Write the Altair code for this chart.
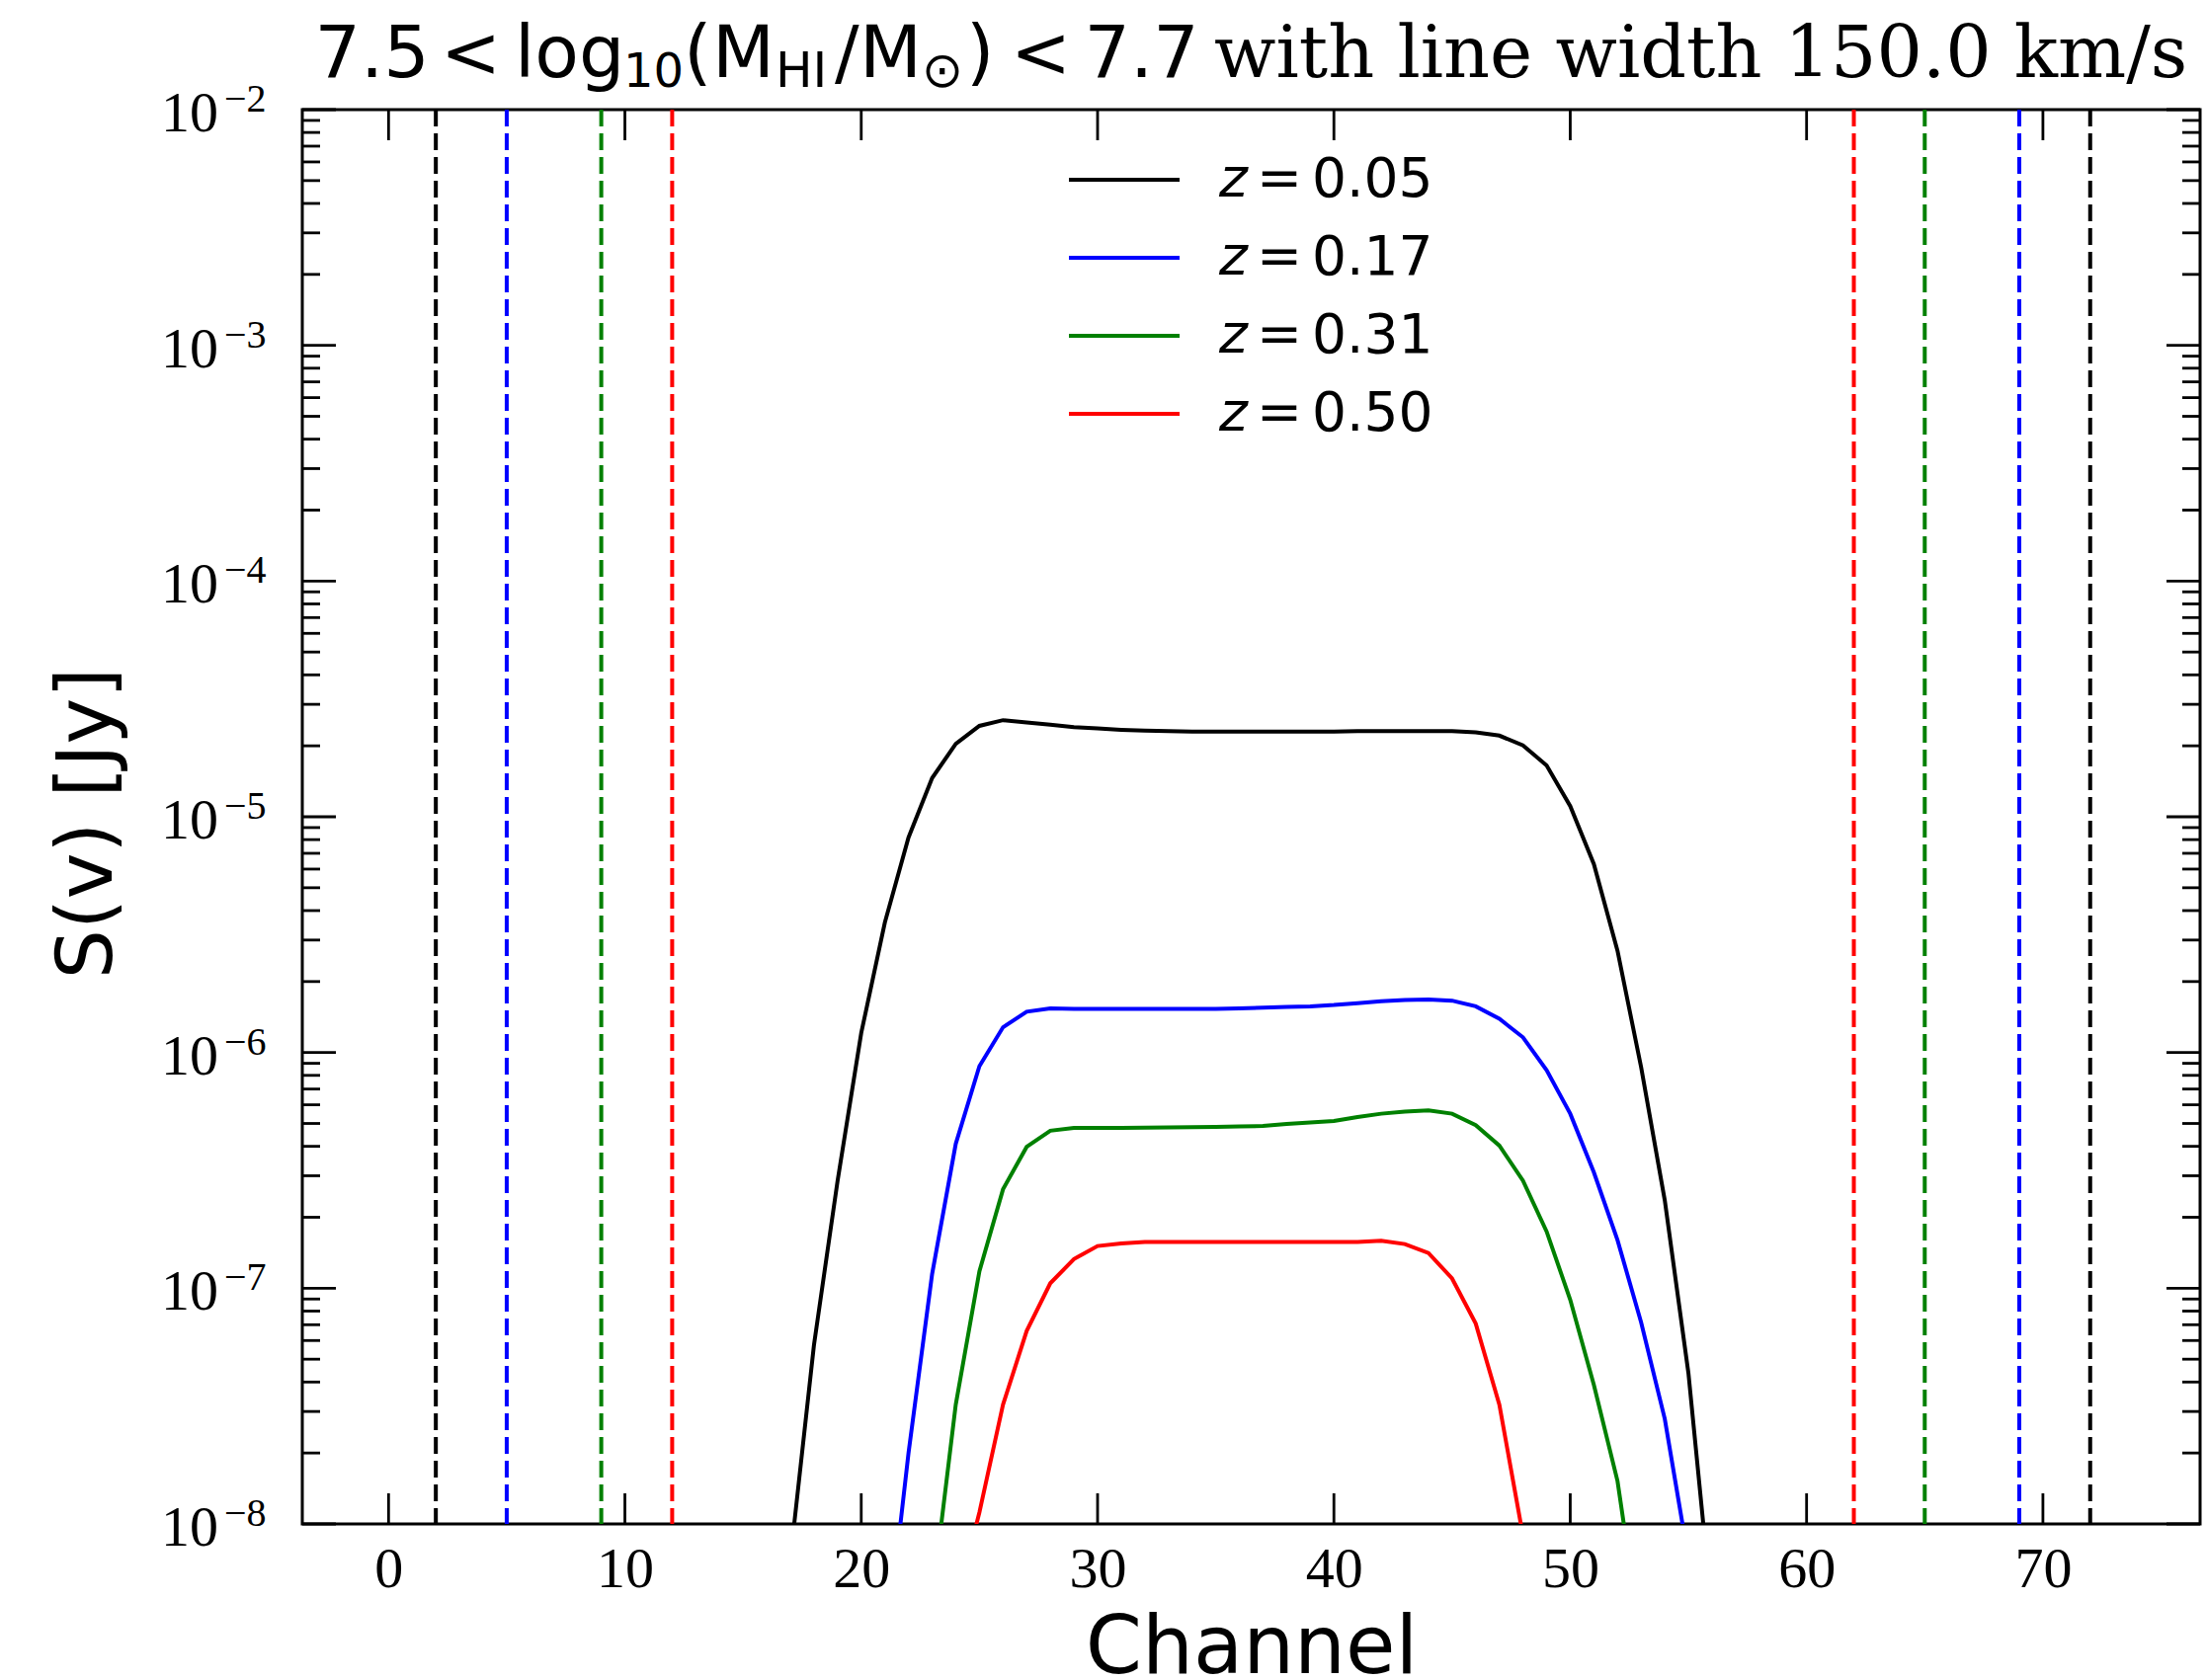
import altair as alt
import pandas as pd

# ---------------- data ----------------
series_labels = ["0.05", "0.17", "0.31", "0.50"]
series_colors = ["#000000", "#0000ff", "#008000", "#ff0000"]

channels_z005 = list(range(17, 57))
flux_z005 = [7.1e-9, 5.75e-8, 2.86e-7, 1.21e-6, 3.56e-6, 8.17e-6, 1.46e-5, 2.04e-5,
             2.43e-5, 2.57e-5, 2.51e-5, 2.46e-5, 2.40e-5, 2.37e-5, 2.34e-5, 2.32e-5,
             2.31e-5, 2.30e-5, 2.30e-5, 2.30e-5, 2.30e-5, 2.30e-5, 2.30e-5, 2.30e-5,
             2.31e-5, 2.31e-5, 2.31e-5, 2.31e-5, 2.31e-5, 2.28e-5, 2.21e-5, 2.01e-5,
             1.65e-5, 1.11e-5, 6.30e-6, 2.70e-6, 8.65e-7, 2.36e-7, 4.37e-8, 4.2e-9]

channels_z017 = list(range(21, 56))
flux_z017 = [2.63e-9, 2.0e-8, 1.15e-7, 4.10e-7, 8.75e-7, 1.28e-6, 1.49e-6, 1.54e-6,
             1.53e-6, 1.53e-6, 1.53e-6, 1.53e-6, 1.53e-6, 1.53e-6, 1.53e-6, 1.54e-6,
             1.55e-6, 1.56e-6, 1.57e-6, 1.59e-6, 1.62e-6, 1.65e-6, 1.67e-6, 1.68e-6,
             1.66e-6, 1.57e-6, 1.39e-6, 1.16e-6, 8.41e-7, 5.50e-7, 3.10e-7, 1.60e-7,
             7.16e-8, 2.79e-8, 7.1e-9]

channels_z031 = list(range(23, 54))
flux_z031 = [4.79e-9, 3.21e-8, 1.18e-7, 2.63e-7, 3.98e-7, 4.66e-7, 4.79e-7, 4.79e-7,
             4.79e-7, 4.80e-7, 4.81e-7, 4.82e-7, 4.84e-7, 4.86e-7, 4.88e-7, 4.98e-7,
             5.05e-7, 5.12e-7, 5.32e-7, 5.50e-7, 5.62e-7, 5.68e-7, 5.50e-7, 4.92e-7,
             4.03e-7, 2.86e-7, 1.74e-7, 8.93e-8, 3.89e-8, 1.52e-8, 3.16e-9]

channels_z050 = list(range(24, 50))
flux_z050 = [4.5e-9, 1.12e-8, 3.21e-8, 6.59e-8, 1.05e-7, 1.33e-7, 1.51e-7, 1.55e-7,
             1.57e-7, 1.57e-7, 1.57e-7, 1.57e-7, 1.57e-7, 1.57e-7, 1.57e-7, 1.57e-7,
             1.57e-7, 1.57e-7, 1.59e-7, 1.54e-7, 1.41e-7, 1.10e-7, 7.08e-8, 3.21e-8,
             8.9e-9, 1.0e-9]

vline_channels = [2, 72, 5, 69, 9, 65, 12, 62]
vline_series = ["0.05", "0.05", "0.17", "0.17", "0.31", "0.31", "0.50", "0.50"]

x_tick_values = [0, 10, 20, 30, 40, 50, 60, 70]
y_tick_values = [1e-8, 1e-7, 1e-6, 1e-5, 1e-4, 1e-3, 1e-2]
y_tick_exponents = ["\u22128", "\u22127", "\u22126", "\u22125", "\u22124", "\u22123", "\u22122"]
y_minor_values = [m * 10.0 ** k for k in range(-8, -2) for m in range(2, 10)]

x_title = "Channel"
y_title = "S(v) [Jy]"

# ---------------- layout ----------------
W, H = 1921, 1432
SANS = "DejaVu Sans"
SERIF_T = "DejaVu Serif"
TICKF = "Liberation Serif"

frames = []
for chs, fl, lab in [(channels_z005, flux_z005, "0.05"), (channels_z017, flux_z017, "0.17"),
                     (channels_z031, flux_z031, "0.31"), (channels_z050, flux_z050, "0.50")]:
    frames.append(pd.DataFrame({"ch": chs, "v": fl, "z": lab}))
line_df = pd.concat(frames, ignore_index=True)
vline_df = pd.DataFrame({"ch": vline_channels, "z": vline_series})
one = pd.DataFrame({"k": [0]})

xs = alt.Scale(domain=[-3.65, 76.65], nice=False, zero=False)
ys = alt.Scale(type="log", domain=[1e-8, 1e-2], nice=False)
cs = alt.Scale(domain=series_labels, range=series_colors)

x_axis = alt.Axis(values=x_tick_values, labelFont=TICKF, labelFontSize=58, labelColor="black",
                  labelPadding=17, ticks=False, domain=False, grid=False, labelFlush=False,
                  title=x_title, titleFont=SANS, titleFontSize=82, titleFontWeight="normal",
                  titleColor="black", titleBaseline="alphabetic", titleY=150)
y_axis = alt.Axis(labels=False, ticks=False, domain=False, grid=False,
                  title=y_title, titleFont=SANS, titleFontSize=79, titleFontWeight="normal",
                  titleColor="black", titleX=-194, titleY=722, titleAngle=270,
                  titleBaseline="alphabetic", titleAlign="center")

X = alt.X("ch:Q", scale=xs, axis=x_axis)
Y = alt.Y("v:Q", scale=ys, axis=y_axis)

lines = alt.Chart(line_df).mark_line(clip=True, strokeWidth=4).encode(
    x=X, y=Y, color=alt.Color("z:N", scale=cs, legend=None), order=alt.Order("ch:Q"))

vlines = alt.Chart(vline_df).mark_rule(strokeDash=[17, 7], strokeWidth=4).encode(
    x=X, color=alt.Color("z:N", scale=cs, legend=None))

xt_df = pd.DataFrame({"ch": x_tick_values})
yt_df = pd.DataFrame({"v": y_tick_values, "exp": y_tick_exponents})
ym_df = pd.DataFrame({"v": y_minor_values})

tick_style = dict(color="black", strokeWidth=2.8)
ticks = [
    alt.Chart(xt_df).mark_rule(**tick_style).encode(x=X, y=alt.value(H), y2=alt.value(H - 31)),
    alt.Chart(xt_df).mark_rule(**tick_style).encode(x=X, y=alt.value(0), y2=alt.value(31)),
    alt.Chart(yt_df).mark_rule(**tick_style).encode(y=Y, x=alt.value(0), x2=alt.value(34)),
    alt.Chart(yt_df).mark_rule(**tick_style).encode(y=Y, x=alt.value(W), x2=alt.value(W - 34)),
    alt.Chart(ym_df).mark_rule(**tick_style).encode(y=Y, x=alt.value(0), x2=alt.value(18)),
    alt.Chart(ym_df).mark_rule(**tick_style).encode(y=Y, x=alt.value(W), x2=alt.value(W - 18)),
]

ylab_base = alt.Chart(yt_df).mark_text(text="10", align="right", baseline="alphabetic", dy=22,
                                        font=TICKF, fontSize=58, color="black").encode(
    y=Y, x=alt.value(-85))
ylab_exp = alt.Chart(yt_df).mark_text(align="left", baseline="alphabetic", dy=2,
                                       font=TICKF, fontSize=40, color="black").encode(
    y=Y, x=alt.value(-79), text="exp:N")


def piece(s, x, y, size, font=SANS, style="normal"):
    return alt.Chart(one).mark_text(align="left", baseline="alphabetic", font=font,
                                    fontSize=size, fontStyle=style, color="black").encode(
        x=alt.value(x), y=alt.value(y), text=alt.value(s))


MB, SB = -33, -23  # main / subscript baseline
title_layers = [
    piece("7.5", 12.5, MB, 73),
    piece("<", 140, MB, 73),
    piece("log", 215, MB, 73),
    piece("10", 325, SB, 48),
    piece("(", 386, MB, 73),
    piece("M", 415, MB, 73),
    piece("HI", 479, SB, 50),
    piece("/", 539, MB, 73),
    piece("M", 564, MB, 73),
    piece("\u2299", 627, SB, 50),
    piece(")", 672, MB, 73),
    piece("<", 717, MB, 73),
    piece("7.7", 791.5, MB, 73),
    piece("with line width 150.0 km/s", 923, MB, 73, font=SERIF_T),
]

legend_layers = []
for i, (lab, col) in enumerate(zip(series_labels, series_colors)):
    ly = 71 + 79 * i
    by = 88 + 79 * i
    legend_layers.append(alt.Chart(one).mark_rule(color=col, strokeWidth=4).encode(
        x=alt.value(776), x2=alt.value(888), y=alt.value(ly)))
    legend_layers.append(piece("z", 928, by, 55, style="italic"))
    legend_layers.append(piece("=", 966, by, 55))
    legend_layers.append(piece(lab, 1022, by, 55))

chart = alt.layer(vlines, lines, *ticks, ylab_base, ylab_exp, *title_layers, *legend_layers).properties(
    width=W, height=H,
    autosize=alt.AutoSizeParams(type="none"),
    padding={"left": 306, "top": 111, "right": 7, "bottom": 158},
    background="white",
).configure_view(stroke="black", strokeWidth=3)

chart.save("out.html", embed_options={"renderer": "svg", "actions": False})
